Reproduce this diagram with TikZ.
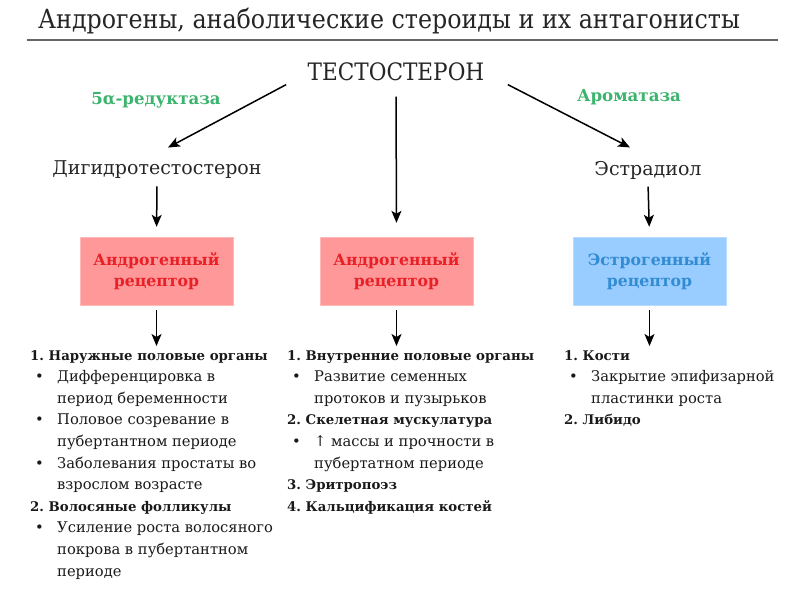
\documentclass[tikz,border=0pt]{standalone}
\usepackage{fontspec}
\setmainfont{DejaVu Serif}
\newfontfamily\titlefont[FakeStretch=0.9]{DejaVu Serif}
\usetikzlibrary{arrows.meta,positioning}

\definecolor{enzgreen}{RGB}{60,180,110}
\definecolor{recred}{RGB}{255,153,153}
\definecolor{rectxtred}{RGB}{232,32,40}
\definecolor{recblue}{RGB}{153,204,255}
\definecolor{rectxtblue}{RGB}{50,140,210}

\tikzset{
  hormone/.style={font=\fontsize{19}{22}\selectfont, text=black!85},
  enzyme/.style={font=\bfseries\fontsize{16.6}{18}\selectfont, text=enzgreen},
  receptor/.style={minimum width=153pt, minimum height=68pt, align=center,
    font=\bfseries\fontsize{15.7}{21}\selectfont},
  andro/.style={receptor, fill=recred, draw=recred!70!white, text=rectxtred},
  estro/.style={receptor, fill=recblue, draw=recblue!70!white, text=rectxtblue},
  effects/.style={anchor=north west, align=left, inner sep=0pt, text=black!90,
    font=\frenchspacing\fontsize{14.7}{21.6}\selectfont},
  arr/.style={-{Stealth[length=12pt,width=10pt,inset=3pt]}, line width=1.5pt},
}
\newcommand{\grp}[1]{{\bfseries\fontsize{13.3}{21.6}\selectfont #1}}
\newcommand{\itm}{\hspace*{5pt}\makebox[22pt][l]{\textbullet}}
\newcommand{\cnt}{\hspace*{27pt}}

\begin{document}
\begin{tikzpicture}[x=1pt,y=-1pt]
\useasboundingbox (0,0) rectangle (800,600);

% header
\node[font=\titlefont\fontsize{26.4}{28}\selectfont, text=black!85] (title) at (389,21)
  {Андрогены, анаболические стероиды и их антагонисты};
\coordinate (rule l) at (27,40);
\coordinate (rule r) at (778,40);
\draw[black!60, line width=1.2pt] (rule l) -- (rule r);

% hormones
\node[font=\titlefont\fontsize{24}{26}\selectfont, text=black!85] (testo) at (396,72) {ТЕСТОСТЕРОН};
\node[hormone] (dht) at (157,170) {Дигидротестостерон};
\node[hormone] (estr) at (648,170) {Эстрадиол};
\node[enzyme] (red5a) at (156,100) {5α-редуктаза};
\node[enzyme] (arom) at (629,97) {Ароматаза};

% receptors
\node[andro] (ar1) at (156.5,271) {Андрогенный\\рецептор};
\node[andro] (ar2) at (396.5,271) {Андрогенный\\рецептор};
\node[estro] (er) at (649.5,271) {Эстрогенный\\рецептор};

% effects
\node[effects] (eff1) at (30,350) {%
\grp{1. Наружные половые органы}\\
\itm Дифференцировка в\\
\cnt период беременности\\
\itm Половое созревание в\\
\cnt пубертантном периоде\\
\itm Заболевания простаты во\\
\cnt взрослом возрасте\\
\grp{2. Волосяные фолликулы}\\
\itm Усиление роста волосяного\\
\cnt покрова в пубертантном\\
\cnt периоде};
\node[effects] (eff2) at (287,350) {%
\grp{1. Внутренние половые органы}\\
\itm Развитие семенных\\
\cnt протоков и пузырьков\\
\grp{2. Скелетная мускулатура}\\
\itm ↑ массы и прочности в\\
\cnt пубертатном периоде\\
\grp{3. Эритропоэз}\\
\grp{4. Кальцификация костей}};
\node[effects] (eff3) at (564,350) {%
\grp{1. Кости}\\
\itm Закрытие эпифизарной\\
\cnt пластинки роста\\
\grp{2. Либидо}};

% arrows
\path[arr]
  ([xshift=-18pt,yshift=0pt]testo.south west) edge ([xshift=11pt,yshift=10pt]dht.north)
  ([xshift=20pt,yshift=0pt]testo.south east) edge ([xshift=-18pt,yshift=10pt]estr.north)
  (testo.south) edge[shorten <=12pt, shorten >=14pt] (ar2.north)
  (dht.south) edge[shorten <=4pt, shorten >=10pt] (ar1.north)
  (estr.south) edge[shorten <=4pt, shorten >=10pt] (er.north)
  (ar1.south) edge[shorten <=5pt, shorten >=4pt] (ar1.south |- eff1.north)
  (ar2.south) edge[shorten <=5pt, shorten >=4pt] (ar2.south |- eff2.north)
  (er.south) edge[shorten <=5pt, shorten >=4pt] (er.south |- eff3.north);
\end{tikzpicture}
\end{document}
